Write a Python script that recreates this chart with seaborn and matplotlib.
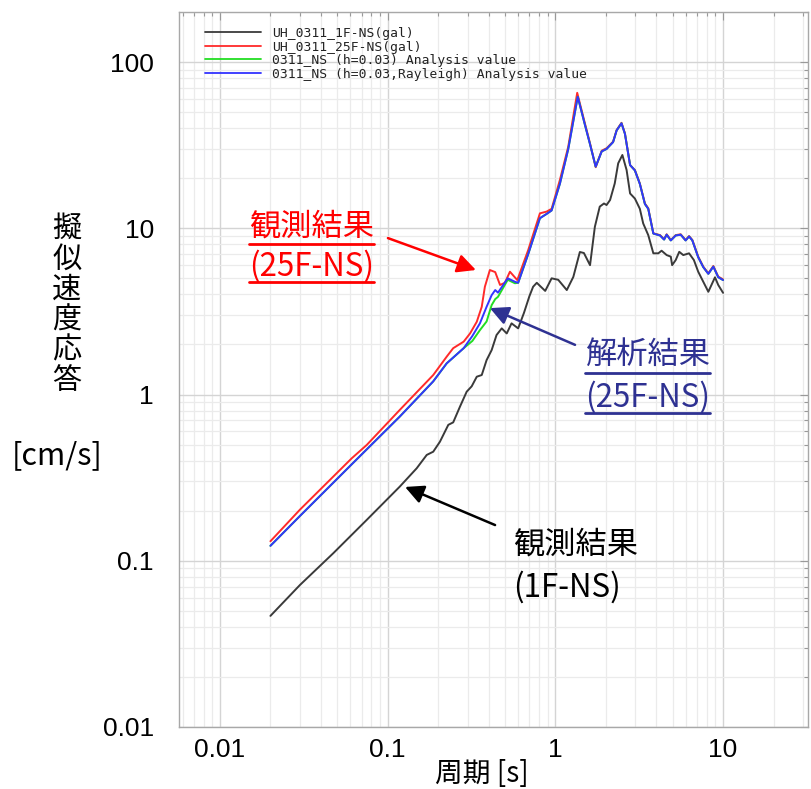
import numpy as np
import pandas as pd
import matplotlib
matplotlib.use("Agg")
import matplotlib.pyplot as plt
import seaborn as sns
from matplotlib.ticker import LogLocator, FuncFormatter, NullFormatter
from matplotlib.lines import Line2D

# ---------------- data (period [s], pseudo-velocity response [cm/s]) ----------------
period_1f = [0.02, 0.03, 0.0474, 0.075, 0.118, 0.149, 0.171, 0.187, 0.205, 0.23, 0.246,
             0.27, 0.296, 0.317, 0.34, 0.364, 0.389, 0.417, 0.446, 0.479, 0.513, 0.548,
             0.60, 0.65, 0.70, 0.737, 0.775, 0.81, 0.87, 0.95, 1.04, 1.17, 1.28, 1.40,
             1.48, 1.61, 1.72, 1.84, 1.95, 2.02, 2.12, 2.26, 2.37, 2.51, 2.66, 2.79, 2.98,
             3.19, 3.34, 3.58, 3.84, 4.11, 4.30, 4.61, 4.88, 4.97, 5.22, 5.48, 5.79, 6.27,
             6.70, 7.11, 7.62, 8.17, 8.95, 9.36, 10.0]
psv_1f = [0.0466, 0.0715, 0.111, 0.176, 0.279, 0.36, 0.433, 0.453, 0.52, 0.657, 0.68,
          0.846, 1.04, 1.12, 1.28, 1.31, 1.61, 1.85, 2.28, 2.50, 2.33, 2.68,
          2.50, 3.10, 3.90, 4.45, 4.70, 4.50, 4.20, 5.00, 4.90, 4.25, 5.10, 7.20,
          7.10, 6.00, 10.2, 13.5, 14.1, 13.8, 14.8, 18.6, 24.6, 27.6, 22.4, 16.2, 15.1,
          13.1, 10.7, 9.1, 7.07, 7.07, 7.33, 6.90, 6.75, 6.00, 6.44, 7.22, 6.90, 7.07,
          6.44, 5.48, 4.77, 4.15, 5.07, 4.56, 4.09]

period_25f = [0.02, 0.03, 0.061, 0.075, 0.118, 0.187, 0.225, 0.246, 0.284, 0.31, 0.34,
              0.364, 0.38, 0.407, 0.438, 0.468, 0.50, 0.536, 0.593, 0.689, 0.809, 0.887,
              0.95, 1.064, 1.194, 1.35, 1.50, 1.61, 1.74, 1.89, 2.02, 2.21, 2.32, 2.48,
              2.60, 2.79, 2.98, 3.19, 3.42, 3.58, 3.84, 4.21, 4.45, 4.61, 4.88, 5.22,
              5.59, 5.98, 6.27, 6.56, 7.11, 7.62, 8.17, 8.75, 9.36, 10.0]
psv_25f = [0.131, 0.203, 0.413, 0.497, 0.807, 1.31, 1.69, 1.90, 2.08, 2.33, 2.74,
           3.37, 4.45, 5.61, 5.45, 4.56, 4.70, 5.48, 4.88, 7.40, 12.3, 12.6,
           13.1, 19.5, 31.0, 65.3, 42.8, 32.4, 23.3, 29.3, 30.3, 33.2, 39.0, 43.1,
           37.2, 24.0, 22.4, 18.6, 14.1, 13.2, 9.33, 9.10, 8.60, 9.20, 8.50, 9.10,
           9.20, 8.50, 8.98, 8.50, 6.75, 5.88, 5.36, 5.93, 5.12, 4.93]

period_ana = [0.02, 0.03, 0.061, 0.118, 0.187, 0.225, 0.284, 0.32, 0.355, 0.389, 0.417,
              0.438, 0.455, 0.52, 0.574, 0.60, 0.689, 0.809, 0.887, 0.95, 1.064, 1.194,
              1.36, 1.50, 1.61, 1.74, 1.89, 2.02, 2.21, 2.32, 2.48, 2.60, 2.79, 2.98,
              3.19, 3.42, 3.58, 3.84, 4.21, 4.45, 4.61, 4.88, 5.22, 5.59, 5.98, 6.27,
              6.56, 7.11, 7.62, 8.17, 8.75, 9.36, 10.0]
psv_rayleigh = [0.123, 0.186, 0.38, 0.736, 1.20, 1.54, 1.90, 2.25, 2.68, 3.37, 3.96,
                4.25, 4.10, 5.00, 4.77, 4.70, 7.00, 11.5, 12.2, 12.8, 18.5, 30.0,
                61.8, 42.0, 32.0, 23.5, 29.0, 30.0, 33.0, 38.8, 42.8, 37.0, 24.0, 22.3,
                18.5, 14.0, 13.1, 9.30, 9.05, 8.55, 9.15, 8.45, 9.05, 9.15, 8.45, 8.93,
                8.45, 6.70, 5.84, 5.32, 5.88, 5.08, 4.88]
psv_h003 = [0.123, 0.186, 0.38, 0.736, 1.20, 1.54, 1.90, 2.10, 2.44, 2.75, 3.45,
            3.75, 3.87, 4.90, 4.67, 4.70, 7.00, 11.5, 12.2, 12.8, 18.5, 30.0,
            61.8, 42.0, 32.0, 23.5, 29.0, 30.0, 33.0, 38.8, 42.8, 37.0, 24.0, 22.3,
            18.5, 14.0, 13.1, 9.30, 9.05, 8.55, 9.15, 8.45, 9.05, 9.15, 8.45, 8.93,
            8.45, 6.70, 5.84, 5.32, 5.88, 5.08, 4.88]

labels = ["UH_0311_1F-NS(gal)", "UH_0311_25F-NS(gal)",
          "0311_NS (h=0.03) Analysis value",
          "0311_NS (h=0.03,Rayleigh) Analysis value"]
colors = ["#3a3a3a", "#ff2a2a", "#22dd22", "#3333ff"]

# ---------------- figure ----------------
sns.set_theme(style="white")
plt.rcParams["font.family"] = ["Noto Sans CJK JP", "DejaVu Sans"]

W, H = 812, 789
fig = plt.figure(figsize=(W / 100, H / 100), dpi=100)
fig.patch.set_facecolor("white")
ax = fig.add_axes([179 / W, 1 - 727 / H, (808 - 179) / W, (727 - 12) / H])
ax.set_xscale("log")
ax.set_yscale("log")

series = [(period_1f, psv_1f), (period_25f, psv_25f),
          (period_ana, psv_h003), (period_ana, psv_rayleigh)]
for (xs, ys), lab, col in zip(series, labels, colors):
    sns.lineplot(x=xs, y=ys, ax=ax, color=col, lw=1.4, label=lab, sort=False)

ax.set_xlim(0.0057, 32.1)
ax.set_ylim(0.01, 200)

for a in (ax.xaxis, ax.yaxis):
    a.set_major_locator(LogLocator(base=10, numticks=20))
    a.set_minor_locator(LogLocator(base=10, subs=np.arange(2, 10), numticks=20))
    a.set_minor_formatter(NullFormatter())
ax.xaxis.set_major_formatter(FuncFormatter(lambda v, p: f"{v:g}"))
ax.yaxis.set_major_formatter(FuncFormatter(lambda v, p: f"{v:g}"))

ax.grid(True, which="major", color="#d4d4d4", lw=1.0)
ax.grid(True, which="minor", color="#ebebeb", lw=0.9)
ax.set_axisbelow(True)
for s in ax.spines.values():
    s.set_color("#a8a8a8")
    s.set_linewidth(1.0)
ax.tick_params(which="both", direction="in", top=True, right=True,
               color="#999999", labelsize=19, labelcolor="black")
ax.tick_params(which="major", length=6, width=0.8)
ax.tick_params(which="minor", length=3, width=0.8)
ax.tick_params(axis="y", pad=18)
ax.tick_params(axis="x", pad=8)
for lbl in ax.get_xticklabels() + ax.get_yticklabels():
    lbl.set_fontfamily(["Liberation Sans", "DejaVu Sans"])
ax.set_xlabel("")
ax.set_ylabel("")

leg = ax.legend(loc="upper left", bbox_to_anchor=(205 / W, 1 - 27 / H),
                bbox_transform=fig.transFigure, frameon=False,
                prop=dict(family="DejaVu Sans Mono", size=9.4),
                handlelength=4.3, handletextpad=0.85, labelspacing=0.04,
                borderpad=0.0, borderaxespad=0.0, labelcolor="#222222")
for lh in leg.get_lines():
    lh.set_linewidth(1.3)


def ftext(px, py, s, **kw):
    return fig.text(px / W, 1 - py / H, s, **kw)


# axis titles
ftext(67, 305, "擬\n似\n速\n度\n応\n答", ha="center", va="center", fontsize=21,
      linespacing=1.02, color="black")
ftext(57, 456, "[cm/s]", ha="center", va="center", fontsize=22, color="black")
ftext(482, 789, "周期 [s]", ha="center", va="bottom", fontsize=20, color="black")

# annotations
red = "#ff0000"
navy = "#2e3192"
blocks = [
    (249, [(227, "観測結果", 244), (266, "(25F-NS)", 282)], red),
    (585, [(355, "解析結果", 373), (397, "(25F-NS)", 413)], navy),
    (513, [(545, "観測結果", None), (587, "(1F-NS)", None)], "black"),
]
texts = []
for x0, lines, col in blocks:
    for cy, s, uy in lines:
        t = ftext(x0, cy, s, ha="left", va="center", fontsize=22.5, color=col)
        texts.append((t, uy, col))

arrow_specs = [
    ((0.336, 5.61), (0.1004, 8.73), red),
    ((0.407, 3.31), (1.31, 1.99), navy),
    ((0.127, 0.278), (0.437, 0.164), "black"),
]
for tip, tail, col in arrow_specs:
    ax.annotate("", xy=tip, xytext=tail, xycoords="data", textcoords="data",
                arrowprops=dict(arrowstyle="-|>", color=col, lw=1.8,
                                mutation_scale=28, shrinkA=0, shrinkB=0))

fig.canvas.draw()
r = fig.canvas.get_renderer()
for t, uy, col in texts:
    if uy is None:
        continue
    bb = t.get_window_extent(r)
    fig.add_artist(Line2D([bb.x0 / W, bb.x1 / W], [1 - uy / H, 1 - uy / H],
                          transform=fig.transFigure, color=col, lw=2.0))

fig.savefig("out.png", dpi=100, facecolor="white")
